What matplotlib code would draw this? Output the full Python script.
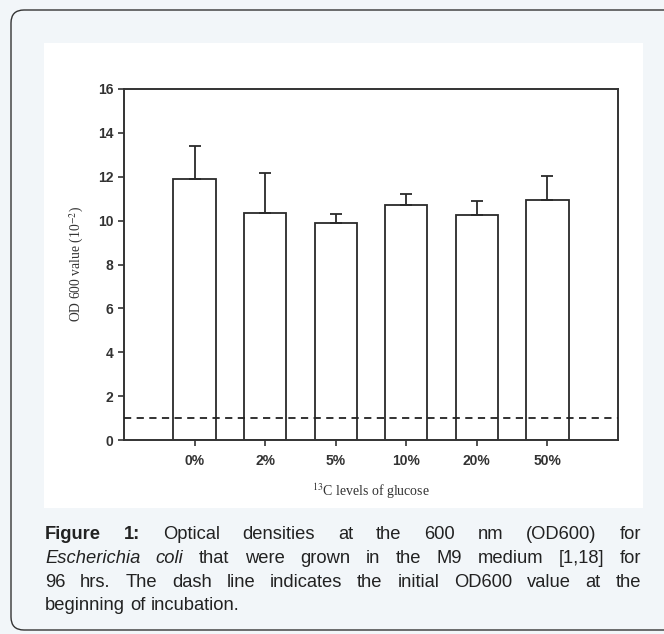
import matplotlib
matplotlib.use('Agg')
import matplotlib.pyplot as plt
from matplotlib.patches import FancyBboxPatch, Rectangle
import numpy as np

# Dados
categorias = ['0%', '2%', '5%', '10%', '20%', '50%']
od_media = [11.9, 10.35, 9.9, 10.7, 10.25, 10.95]
od_erro = [1.5, 1.8, 0.4, 0.5, 0.65, 1.1]
od_inicial = 1.0
y_ticks = [0, 2, 4, 6, 8, 10, 12, 14, 16]

W, H = 664, 634
plt.rcParams['mathtext.fontset'] = 'stix'
fig = plt.figure(figsize=(W / 100, H / 100), dpi=100)
fig.patch.set_facecolor('#f2f6f9')

# moldura arredondada e painel branco (coordenadas em pixels)
card = FancyBboxPatch((11, 4), 720, 620, boxstyle='round,pad=0,rounding_size=13',
                      transform=None, facecolor='#f2f6f9', edgecolor='#333333',
                      linewidth=1.0, zorder=-3)
fig.add_artist(card)
painel = Rectangle((44, H - 508), 599, 465, transform=None,
                   facecolor='white', edgecolor='none', zorder=-2)
fig.add_artist(painel)

# --- Gráfico de barras ---
ax = fig.add_axes([124 / W, 1 - 440 / H, (618 - 124) / W, (440 - 89) / H])
x = np.arange(len(categorias))
ax.bar(x, od_media, width=0.6, color='white', edgecolor='#2a2a2a', linewidth=1.3, zorder=2)
ax.errorbar(x, od_media, yerr=[np.zeros(len(od_erro)), od_erro], fmt='none',
            ecolor='#2a2a2a', elinewidth=1.3, capsize=4, capthick=1.3, zorder=3)
ax.axhline(od_inicial, color='#222222', linestyle=(0, (4, 3)), linewidth=1.3, zorder=4)

ax.set_xlim(-1, 6)
ax.set_ylim(0, 16)
ax.set_yticks(y_ticks)
ax.set_xticks(x)
ax.set_xticklabels(categorias)
for s in ax.spines.values():
    s.set_linewidth(1.4)
    s.set_color('#333333')
ax.tick_params(axis='both', direction='out', length=4, width=1.2, colors='#333333',
               labelsize=10, labelcolor='#333333')
ax.tick_params(axis='x', pad=6)
for lab in ax.get_xticklabels() + ax.get_yticklabels():
    lab.set_fontfamily('Liberation Sans')
    lab.set_fontweight('bold')

ax.set_ylabel('OD 600 value (10$^{-2}$)', family='Liberation Serif', fontsize=9.8,
              color='#333333', labelpad=9)
ax.set_xlabel('$^{13}$C levels of glucose', family='Liberation Serif', fontsize=10,
              color='#333333', labelpad=10)

# --- Legenda justificada ---
linhas = [
    [('Figure', 'bold'), ('1:', 'bold'), ('Optical', ''), ('densities', ''), ('at', ''),
     ('the', ''), ('600', ''), ('nm', ''), ('(OD600)', ''), ('for', '')],
    [('Escherichia', 'italic'), ('coli', 'italic'), ('that', ''), ('were', ''), ('grown', ''),
     ('in', ''), ('the', ''), ('M9', ''), ('medium', ''), ('[1,18]', ''), ('for', '')],
    [('96', ''), ('hrs.', ''), ('The', ''), ('dash', ''), ('line', ''), ('indicates', ''),
     ('the', ''), ('initial', ''), ('OD600', ''), ('value', ''), ('at', ''), ('the', '')],
    [('beginning', ''), ('of', ''), ('incubation.', '')],
]
baselines = [539, 563, 587, 610]
x0, x1 = 45, 641
fs = 13.2
renderer = fig.canvas.get_renderer()
for i, (linha, yb) in enumerate(zip(linhas, baselines)):
    objs = []
    for palavra, estilo in linha:
        t = fig.text(0, 1 - yb / H, palavra, fontsize=fs, family='Liberation Sans',
                     color='#222222', va='baseline', ha='left',
                     fontweight='bold' if estilo == 'bold' else 'normal',
                     fontstyle='italic' if estilo == 'italic' else 'normal')
        objs.append(t)
    larguras = [t.get_window_extent(renderer).width for t in objs]
    if i < len(linhas) - 1:
        gap = (x1 - x0 - sum(larguras)) / (len(objs) - 1)
    else:
        gap = fs * 100 / 72 * 0.278
    pos = x0
    for t, w in zip(objs, larguras):
        t.set_x(pos / W)
        pos += w + gap

fig.savefig('out.png', dpi=100, facecolor=fig.get_facecolor())
